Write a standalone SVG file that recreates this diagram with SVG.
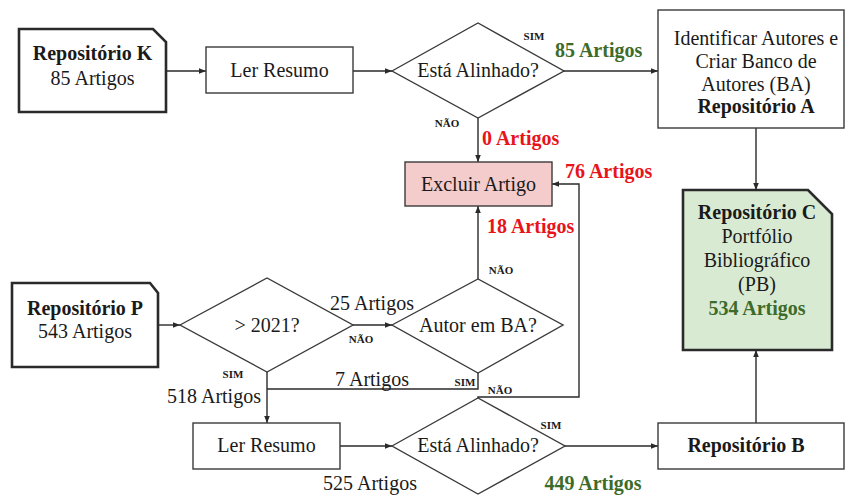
<svg xmlns="http://www.w3.org/2000/svg" width="847" height="495" viewBox="0 0 847 495" font-family="'Liberation Serif', 'DejaVu Serif', serif">
  <style>
    text { font-family: 'Liberation Serif', 'DejaVu Serif', serif; fill: #1a1a1a; }
    .t { font-size: 20px; text-anchor: middle; }
    .b { font-weight: bold; }
    .s { font-size: 11px; font-weight: bold; text-anchor: middle; }
    .red { fill: #e8141c; font-weight: bold; font-size: 20px; }
    .grn { fill: #3d6b2a; font-weight: bold; font-size: 20px; }
    .box { fill: #ffffff; stroke: #3a3a3a; stroke-width: 1.4; }
    .repo { fill: #ffffff; stroke: #2a2a2a; stroke-width: 2.6; }
    .dia { fill: #ffffff; stroke: #3a3a3a; stroke-width: 1.4; }
    .edge { fill: none; stroke: #2a2a2a; stroke-width: 1.4; }
  </style>
  <defs>
    <marker id="ah" viewBox="0 0 10 10" refX="10" refY="5" markerWidth="7" markerHeight="7" markerUnits="userSpaceOnUse" orient="auto">
      <path d="M0,1 L10,5 L0,9 Z" fill="#2a2a2a"/>
    </marker>
  </defs>
  <rect width="847" height="495" fill="#ffffff"/>

  <!-- connectors -->
  <g id="connectors">
    <path class="edge" d="M166,71 H206" marker-end="url(#ah)"/>
    <path class="edge" d="M353,71 H392" marker-end="url(#ah)"/>
    <path class="edge" d="M564,71 H658" marker-end="url(#ah)"/>
    <path class="edge" d="M478,118 V162" marker-end="url(#ah)"/>
    <path class="edge" d="M756,128 V190" marker-end="url(#ah)"/>
    <path class="edge" d="M756,423 V350" marker-end="url(#ah)"/>
    <path class="edge" d="M158,325 H180" marker-end="url(#ah)"/>
    <path class="edge" d="M353,325 H392" marker-end="url(#ah)"/>
    <path class="edge" d="M478,279 V206" marker-end="url(#ah)"/>
    <path class="edge" d="M267,372 V423" marker-end="url(#ah)"/>
    <path class="edge" d="M478,373 V389 H267"/>
    <path class="edge" d="M478,398 V397 H579 V184 H552" marker-end="url(#ah)"/>
    <path class="edge" d="M340,446 H392" marker-end="url(#ah)"/>
    <path class="edge" d="M565,446 H658" marker-end="url(#ah)"/>
  </g>

  <!-- nodes -->
  <g id="repo-k">
    <polygon class="repo" points="19,29 153,29 166,42 166,112 19,112"/>
    <text class="t b" x="92.5" y="60">Repositório K</text>
    <text class="t" x="92.5" y="85">85 Artigos</text>
  </g>

  <g id="ler-resumo-1">
    <rect class="box" x="206" y="47" width="147" height="46"/>
    <text class="t" x="279.5" y="77">Ler Resumo</text>
  </g>

  <g id="alinhado-1">
    <polygon class="dia" points="392,71 478,23 564,71 478,118"/>
    <text class="t" x="478" y="77">Está Alinhado?</text>
  </g>

  <g id="repo-a">
    <rect class="box" x="658" y="10" width="186" height="118"/>
    <text class="t" x="756" y="45">Identificar Autores e</text>
    <text class="t" x="756" y="68">Criar Banco de</text>
    <text class="t" x="756" y="91">Autores (BA)</text>
    <text class="t b" x="756" y="113">Repositório A</text>
  </g>

  <g id="excluir">
    <rect x="405" y="162" width="147" height="44" fill="#f4cccc" stroke="#3a3a3a" stroke-width="1.4"/>
    <text class="t" x="478.5" y="191">Excluir Artigo</text>
  </g>

  <g id="repo-c">
    <polygon points="683,190 808,190 832,214 832,350 683,350" fill="#d9ead3" stroke="#2a2a2a" stroke-width="2.6"/>
    <text class="t b" x="757" y="219">Repositório C</text>
    <text class="t" x="757" y="243">Portfólio</text>
    <text class="t" x="757" y="267">Bibliográfico</text>
    <text class="t" x="757" y="291">(PB)</text>
    <text class="grn" x="757" y="315" text-anchor="middle">534 Artigos</text>
  </g>

  <g id="repo-p">
    <polygon class="repo" points="12,283 150,283 158,293 158,367 12,367"/>
    <text class="t b" x="85" y="315">Repositório P</text>
    <text class="t" x="85" y="338">543 Artigos</text>
  </g>

  <g id="ano">
    <polygon class="dia" points="180,325 267,278 353,325 267,372"/>
    <text class="t" x="267" y="332">&gt; 2021?</text>
  </g>

  <g id="autor-ba">
    <polygon class="dia" points="392,325 478,279 563,325 478,373"/>
    <text class="t" x="478" y="332">Autor em BA?</text>
  </g>

  <g id="ler-resumo-2">
    <rect class="box" x="193" y="423" width="147" height="46"/>
    <text class="t" x="266.5" y="452">Ler Resumo</text>
  </g>

  <g id="alinhado-2">
    <polygon class="dia" points="392,446 478,398 565,446 478,494"/>
    <text class="t" x="478" y="452">Está Alinhado?</text>
  </g>

  <g id="repo-b">
    <rect class="box" x="658" y="423" width="186" height="46"/>
    <text class="t b" x="746" y="452">Repositório B</text>
  </g>

  <!-- edge labels -->
  <g id="labels">
    <text class="s" x="534" y="40">SIM</text>
    <text class="grn" x="555" y="57">85 Artigos</text>
    <text class="s" x="447" y="127">NÃO</text>
    <text class="red" x="482" y="145">0 Artigos</text>
    <text class="red" x="565" y="178">76 Artigos</text>
    <text class="red" x="487" y="233">18 Artigos</text>
    <text class="s" x="501" y="274">NÃO</text>
    <text class="t" x="372" y="310">25 Artigos</text>
    <text class="s" x="361" y="343">NÃO</text>
    <text class="s" x="233" y="378">SIM</text>
    <text class="t" x="372" y="386">7 Artigos</text>
    <text class="s" x="465" y="386">SIM</text>
    <text class="s" x="500" y="394">NÃO</text>
    <text class="t" x="214" y="403">518 Artigos</text>
    <text class="s" x="551" y="429">SIM</text>
    <text class="t" x="370" y="490">525 Artigos</text>
    <text class="grn" x="593" y="490" text-anchor="middle">449 Artigos</text>
  </g>
</svg>
